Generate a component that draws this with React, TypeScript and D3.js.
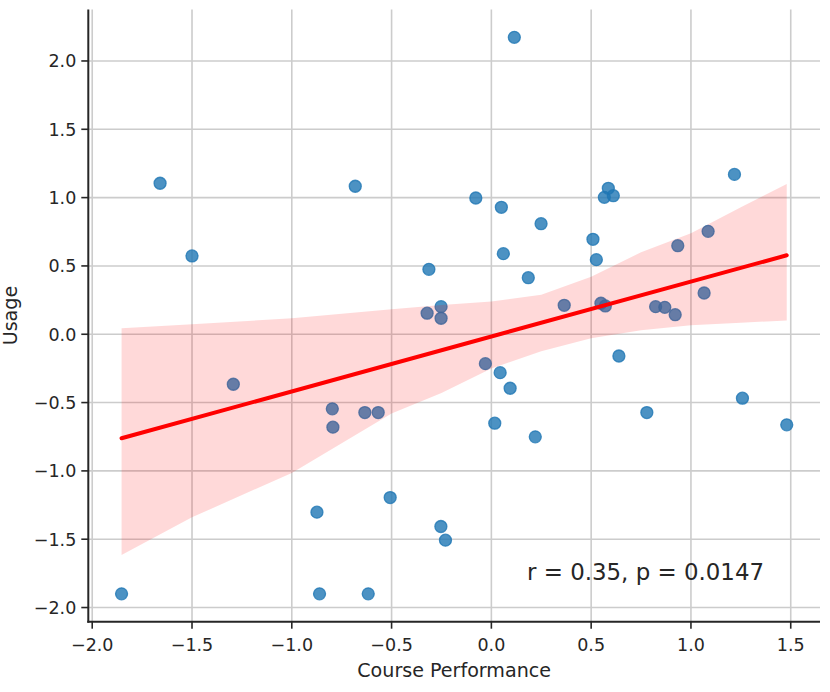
import { area, extent, line, scaleLinear } from "d3";

// Scatter points (course performance vs usage, z-scores)
const performance = [
  -1.66, -1.5, -0.682, -0.313, -0.252, -0.322, -0.252, 0.115, -0.078, 0.05, 0.249, 0.06, 0.185,
  0.586, 0.566, 0.611, 0.509, 0.526, 1.218, 1.086, 0.934, 1.066, 0.365, 0.549, 0.571, 0.823,
  0.869, 0.921, -1.293, -0.797, -0.794, -0.634, -0.567, -0.507, -0.874, -0.253, -0.23, -1.853,
  -0.861, -0.617, -0.03, 0.044, 0.094, 0.017, 0.22, 0.639, 0.779, 1.258, 1.48
];
const usage = [
  1.105, 0.573, 1.083, 0.475, 0.202, 0.154, 0.117, 2.173, 0.997, 0.929, 0.809, 0.59, 0.414,
  1.068, 1.002, 1.014, 0.695, 0.546, 1.17, 0.753, 0.648, 0.302, 0.212, 0.227, 0.207, 0.202,
  0.197, 0.143, -0.366, -0.546, -0.68, -0.573, -0.573, -1.195, -1.302, -1.407, -1.507, -1.9,
  -1.9, -1.9, -0.215, -0.281, -0.395, -0.651, -0.751, -0.159, -0.573, -0.468, -0.663
];

// Fitted line ends and bootstrap confidence band
const fitX = [-1.853, 1.48];
const fitY = [-0.761, 0.578];
const bandX = [-1.853, -1.5, -1.0, -0.5, -0.25, 0.0, 0.25, 0.5, 0.75, 1.0, 1.25, 1.48];
const bandLow = [-1.615, -1.34, -1.015, -0.58, -0.43, -0.25, -0.125, -0.03, 0.03, 0.065, 0.085, 0.1];
const bandHigh = [0.044, 0.073, 0.117, 0.183, 0.214, 0.24, 0.29, 0.42, 0.6, 0.74, 0.93, 1.1];

const xTicks = [-2.0, -1.5, -1.0, -0.5, 0.0, 0.5, 1.0, 1.5];
const yTicks = [-2.0, -1.5, -1.0, -0.5, 0.0, 0.5, 1.0, 1.5, 2.0];

const annotation = "r = 0.35, p = 0.0147";

const width = 830;
const height = 692;
const plot = { left: 88.3, right: 820, top: 9.5, bottom: 621.7 };
const font = "'DejaVu Sans', sans-serif";
const ink = "#262626";

function padded(values: number[]): [number, number] {
  const [lo, hi] = extent(values) as [number, number];
  const pad = (hi - lo) * 0.05;
  return [lo - pad, hi + pad];
}

function fmt(v: number): string {
  return v.toFixed(1).replace("-", "\u2212");
}

export default function App() {
  const x = scaleLinear().domain(padded(performance)).range([plot.left, plot.right]);
  const y = scaleLinear().domain(padded(usage)).range([plot.bottom, plot.top]);

  const bandPath =
    area<number>()
      .x((_, i) => x(bandX[i]))
      .y0((_, i) => y(bandLow[i]))
      .y1((_, i) => y(bandHigh[i]))(bandX) ?? "";
  const fitPath =
    line<number>()
      .x((_, i) => x(fitX[i]))
      .y((_, i) => y(fitY[i]))(fitX) ?? "";

  return (
    <svg
      width={width}
      height={height}
      style={{ position: "absolute", left: 0, top: 0, background: "#fff" }}
      fontFamily={font}
    >
      {/* grid */}
      <g stroke="#cccccc" strokeWidth={1.6}>
        {xTicks.map((t) => (
          <line key={`gx${t}`} x1={x(t)} x2={x(t)} y1={plot.top} y2={plot.bottom} />
        ))}
        {yTicks.map((t) => (
          <line key={`gy${t}`} x1={plot.left} x2={plot.right} y1={y(t)} y2={y(t)} />
        ))}
      </g>

      {/* scatter */}
      <g>
        {performance.map((p, i) => (
          <circle
            key={i}
            cx={x(p)}
            cy={y(usage[i])}
            r={6}
            fill="#1f77b4"
            fillOpacity={0.8}
            stroke="#1f77b4"
            strokeOpacity={0.8}
            strokeWidth={1.3}
          />
        ))}
      </g>

      {/* confidence band and regression line */}
      <path d={bandPath} fill="#ff0000" fillOpacity={0.15} />
      <path d={fitPath} fill="none" stroke="#ff0000" strokeWidth={4} strokeLinecap="round" />

      {/* spines */}
      <g stroke={ink} strokeWidth={2}>
        <line x1={plot.left} x2={plot.left} y1={plot.top} y2={plot.bottom + 1} />
        <line x1={plot.left - 1} x2={plot.right} y1={plot.bottom} y2={plot.bottom} />
      </g>

      {/* y axis */}
      <g fill={ink} fontSize={17.5}>
        {yTicks.map((t) => (
          <g key={`ty${t}`}>
            <line x1={plot.left - 7} x2={plot.left} y1={y(t)} y2={y(t)} stroke={ink} strokeWidth={1.6} />
            <text x={plot.left - 12} y={y(t)} dy="0.36em" textAnchor="end">
              {fmt(t)}
            </text>
          </g>
        ))}
      </g>

      {/* x axis */}
      <g fill={ink} fontSize={17.5}>
        {xTicks.map((t) => (
          <g key={`tx${t}`}>
            <line x1={x(t)} x2={x(t)} y1={plot.bottom} y2={plot.bottom + 7} stroke={ink} strokeWidth={1.6} />
            <text x={x(t)} y={plot.bottom + 29} textAnchor="middle">
              {fmt(t)}
            </text>
          </g>
        ))}
      </g>

      <text x={(plot.left + plot.right) / 2} y={677} textAnchor="middle" fontSize={19.1} fill={ink}>
        Course Performance
      </text>
      <text
        transform={`translate(17, ${(plot.top + plot.bottom) / 2}) rotate(-90)`}
        textAnchor="middle"
        fontSize={19.1}
        fill={ink}
      >
        Usage
      </text>

      <text x={527} y={580} fontSize={22.9} fill={ink}>
        {annotation}
      </text>
    </svg>
  );
}
